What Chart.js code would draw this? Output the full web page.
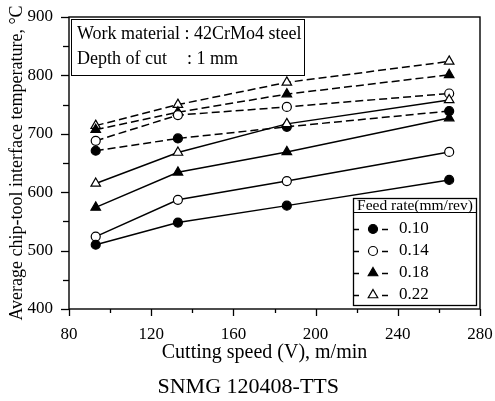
<!DOCTYPE html>
<html><head><meta charset="utf-8">
<script src="https://cdn.jsdelivr.net/npm/chart.js@4"></script>
<style>html,body{margin:0;padding:0;background:#fff}canvas{display:block}</style>
</head><body>
<canvas id="c" width="495" height="401"></canvas>
<script>
// ---- data ----
const speeds = [93, 133, 186, 265];
const feedRates = ['0.10', '0.14', '0.18', '0.22'];
const solid010 = [510, 548, 577, 621];
const solid014 = [524, 587, 619, 669];
const solid018 = [574, 634, 669, 727];
const solid022 = [615, 668, 717, 758];
const dashed010 = [671, 692, 712, 739];
const dashed014 = [688, 732, 746, 769];
const dashed018 = [707, 737, 768, 801];
const dashed022 = [714, 750, 788, 824];
const xTickStep = 20, xLabelStep = 40;
const yTickStep = 50, yLabelStep = 100;
const infoLines = [['Work material', ': 42CrMo4 steel'], ['Depth of cut', ': 1 mm']];
const legendTitle = 'Feed rate(mm/rev)';
const NB = '\u00A0';

const FONT = "'Liberation Serif', 'Times New Roman', serif";
const markerStyles = [
  {shape: 'circle', filled: true},
  {shape: 'circle', filled: false},
  {shape: 'triangle', filled: true},
  {shape: 'triangle', filled: false}
];

function makeDs(label, vals, idx, dashed) {
  const m = markerStyles[idx];
  return {
    label: label,
    data: vals.map((v, i) => ({x: speeds[i], y: v})),
    showLine: true,
    borderColor: '#000',
    borderWidth: 1.5,
    borderDash: dashed ? [8, 4] : [],
    pointStyle: m.shape,
    pointRadius: m.shape === 'triangle' ? 5.5 : 4.5,
    pointHoverRadius: m.shape === 'triangle' ? 5.5 : 4.5,
    pointBackgroundColor: m.filled ? '#000' : '#fff',
    pointBorderColor: '#000',
    pointBorderWidth: 1.2,
    fill: false,
    tension: 0
  };
}

const datasets = [
  makeDs(feedRates[0], solid010, 0, false),
  makeDs(feedRates[1], solid014, 1, false),
  makeDs(feedRates[2], solid018, 2, false),
  makeDs(feedRates[3], solid022, 3, false),
  makeDs(feedRates[0] + ' b', dashed010, 0, true),
  makeDs(feedRates[1] + ' b', dashed014, 1, true),
  makeDs(feedRates[2] + ' b', dashed018, 2, true),
  makeDs(feedRates[3] + ' b', dashed022, 3, true)
];

function drawMarker(ctx, shape, filled, x, y, r) {
  ctx.save();
  ctx.beginPath();
  if (shape === 'circle') {
    ctx.arc(x, y, r, 0, Math.PI * 2);
  } else {
    let rad = 0;
    const t = Math.PI * 2 / 3;
    ctx.moveTo(x + Math.sin(rad) * r, y - Math.cos(rad) * r);
    rad += t; ctx.lineTo(x + Math.sin(rad) * r, y - Math.cos(rad) * r);
    rad += t; ctx.lineTo(x + Math.sin(rad) * r, y - Math.cos(rad) * r);
    ctx.closePath();
  }
  ctx.fillStyle = filled ? '#000' : '#fff';
  ctx.fill();
  ctx.lineWidth = 1.2;
  ctx.strokeStyle = '#000';
  ctx.stroke();
  ctx.restore();
}

const decor = {
  id: 'decor',
  afterDraw(chart) {
    const ctx = chart.ctx;
    const a = chart.chartArea;
    const xs = chart.scales.x, ys = chart.scales.y;
    ctx.save();
    ctx.strokeStyle = '#000';
    // frame
    ctx.lineWidth = 1.4;
    ctx.strokeRect(a.left, a.top, a.right - a.left, a.bottom - a.top);
    // x ticks
    ctx.lineWidth = 1.3;
    for (let v = xs.min; v <= xs.max + 1e-6; v += xTickStep) {
      const px = Math.round(xs.getPixelForValue(v)) + 0.5;
      const len = (v % xLabelStep === 0) ? 7 : 4;
      ctx.beginPath(); ctx.moveTo(px, a.bottom); ctx.lineTo(px, a.bottom + len); ctx.stroke();
    }
    for (let v = ys.min; v <= ys.max + 1e-6; v += yTickStep) {
      const py = Math.round(ys.getPixelForValue(v)) + 0.5;
      const len = (v % yLabelStep === 0) ? 8 : 6;
      ctx.beginPath(); ctx.moveTo(a.left, py); ctx.lineTo(a.left - len, py); ctx.stroke();
    }
    // info box
    ctx.lineWidth = 1;
    ctx.fillStyle = '#fff';
    ctx.fillRect(71.5, 19.5, 233, 56);
    ctx.strokeRect(71.5, 19.5, 233, 56);
    ctx.fillStyle = '#000';
    ctx.font = '18px ' + FONT;
    ctx.textBaseline = 'middle';
    ctx.textAlign = 'left';
    ctx.fillText(infoLines[0][0] + ' ' + infoLines[0][1], 77, 34);
    ctx.fillText(infoLines[1][0], 77, 59);
    ctx.fillText(infoLines[1][1], 187, 59);
    // legend
    const lx = 353.5, ly = 198.5, lw = 123, lh = 107;
    ctx.fillStyle = '#fff';
    ctx.fillRect(lx, ly, lw, lh);
    ctx.lineWidth = 1.3;
    ctx.strokeRect(lx, ly, lw, lh);
    ctx.lineWidth = 1;
    ctx.beginPath(); ctx.moveTo(lx, 212.5); ctx.lineTo(lx + lw, 212.5); ctx.stroke();
    ctx.fillStyle = '#000';
    ctx.font = '15.5px ' + FONT;
    ctx.textAlign = 'center';
    ctx.fillText(legendTitle, lx + lw / 2, 206);
    ctx.textAlign = 'left';
    ctx.font = '17px ' + FONT;
    const rows = [229, 251, 273, 295];
    feedRates.forEach((fr, i) => {
      const y = rows[i];
      ctx.lineWidth = 1.4;
      ctx.beginPath();
      ctx.moveTo(354, y + 0.5); ctx.lineTo(359, y + 0.5);
      ctx.moveTo(382, y + 0.5); ctx.lineTo(388, y + 0.5);
      ctx.stroke();
      const m = markerStyles[i];
      drawMarker(ctx, m.shape, m.filled, 373, y, m.shape === 'triangle' ? 5.5 : 4.5);
      ctx.fillStyle = '#000';
      ctx.fillText(fr, 399, y);
    });
    ctx.restore();
  }
};

new Chart(document.getElementById('c'), {
  type: 'scatter',
  data: {datasets: datasets},
  options: {
    responsive: false,
    animation: false,
    devicePixelRatio: 1,
    layout: {padding: {top: 17, right: 15, left: 0, bottom: 0}},
    plugins: {
      legend: {display: false},
      tooltip: {enabled: false},
      title: {
        display: true, position: 'bottom', text: NB + NB + NB + 'SNMG 120408-TTS', color: '#000',
        font: {family: FONT, size: 22, weight: 'normal'},
        padding: {top: 0, bottom: 1}
      }
    },
    scales: {
      x: {
        type: 'linear', min: 80, max: 280,
        grid: {display: false, drawTicks: false},
        border: {display: false},
        ticks: {
          stepSize: xTickStep, autoSkip: false, maxRotation: 0, color: '#000', padding: 15,
          font: {family: FONT, size: 17},
          callback: v => (v % xLabelStep === 0 ? String(v) : '')
        },
        title: {display: true, text: 'Cutting speed (V), m/min' + NB + NB + NB + NB, color: '#000',
          font: {family: FONT, size: 20, weight: 'normal'}, padding: {top: 0, bottom: 9}},
        afterFit: s => { s.height = 64.6; s.paddingLeft = 0; s.paddingRight = 0; }
      },
      y: {
        type: 'linear', min: 400, max: 900,
        grid: {display: false, drawTicks: false},
        border: {display: false},
        ticks: {
          stepSize: yTickStep, autoSkip: false, color: '#000', padding: 16,
          font: {family: FONT, size: 17},
          callback: v => (v % yLabelStep === 0 ? String(v) : '')
        },
        title: {display: true, text: 'Average chip-tool interface temperature, °C', color: '#000',
          font: {family: FONT, size: 18, weight: 'normal'}, padding: {top: 6, bottom: 0}},
        afterFit: s => { s.width = 69; s.paddingTop = 0; s.paddingBottom = 0; }
      }
    }
  },
  plugins: [decor]
});
</script>
</body></html>
